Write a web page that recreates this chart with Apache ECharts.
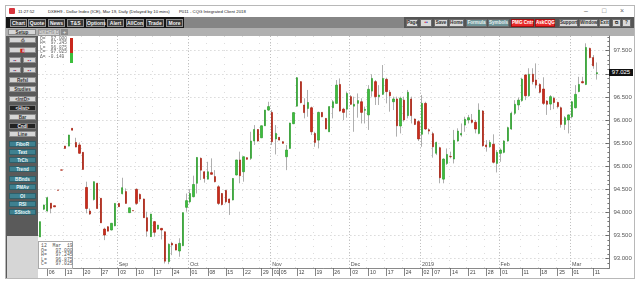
<!DOCTYPE html>
<html><head><meta charset="utf-8">
<script src="https://cdn.jsdelivr.net/npm/echarts@6/dist/echarts.min.js"></script>
<style>
body{margin:0;width:640px;height:286px;background:#fff;position:relative;overflow:hidden;font-family:'Liberation Sans',Arial,sans-serif}
.a{position:absolute;box-sizing:border-box}
.t{position:absolute;white-space:pre;color:#222}
.tb{position:absolute;top:19px;height:8px;font-weight:bold;font-size:5px;line-height:6.5px;text-align:center;box-sizing:border-box;border:1px solid #8f8f8f;background:#3a3a3a;color:#f4f4f4;white-space:nowrap}
.rb{position:absolute;top:19px;height:8px;font-weight:bold;font-size:4.6px;line-height:6.5px;text-align:center;box-sizing:border-box;border:1px solid #6a6a6a;background:#dadada;color:#333;white-space:nowrap}
.rt{background:#6f9599;color:#e6f0f0}
.rr{background:#e82a2a;color:#fff;border-color:#a01010}
.lb{position:absolute;left:9px;width:27px;height:6px;font-size:4.6px;line-height:5.3px;text-align:center;box-sizing:border-box;border:0.6px solid #8a8a8a;background:#d6d6d6;color:#333;white-space:nowrap;font-weight:bold}
.dk{background:#222;color:#eee;border-color:#777}
.tl{background:#3f8190;color:#e8f4f6;border-color:#2d5f6a}
.mono{font-family:'Liberation Mono','DejaVu Sans Mono',monospace;color:#666}
</style></head>
<body>
<!-- window frame -->
<div class="a" style="left:5px;top:5px;width:630px;height:274px;border:1px solid #b8b8b8;background:#fff"></div>
<!-- title bar -->
<div class="a" style="left:9px;top:8px;width:6px;height:6px;background:#d8343c;border-radius:1px"></div>
<div class="t" style="left:18px;top:9px;font-size:4.3px;">11:27:52</div>
<div class="t" style="left:48px;top:9px;font-size:4.3px;">DXEH9 - Dollar Index (ICE), Mar 19, Daily (Delayed by 10 mins)</div>
<div class="t" style="left:179px;top:9px;font-size:4.3px;">P011 - CQG Integrated Client 2018</div>
<div class="t" style="left:584px;top:7px;font-size:7px;color:#666">–</div>
<div class="t" style="left:602px;top:7px;font-size:7px;color:#666">□</div>
<div class="t" style="left:620px;top:7px;font-size:7px;color:#666">×</div>
<!-- toolbar -->
<div class="a" style="left:6px;top:17px;width:628px;height:11px;background:#858585"></div>
<div class="a" style="left:6px;top:17px;width:178px;height:11px;background:#161616"></div>
<div class="a" style="left:404px;top:17px;width:230px;height:11px;background:#555"></div>
<div class="tb" style="left:10px;width:17px">Chart</div>
<div class="tb" style="left:28px;width:18px">Quote</div>
<div class="tb" style="left:48px;width:17px">News</div>
<div class="tb" style="left:67px;width:17px">T&amp;S</div>
<div class="tb" style="left:86px;width:19px">Options</div>
<div class="tb" style="left:107px;width:17px">Alert</div>
<div class="tb" style="left:126px;width:18px">AllCon</div>
<div class="tb" style="left:146px;width:18px">Trade</div>
<div class="tb" style="left:166px;width:17px">More</div>
<div class="rb" style="left:406px;width:12px">Page</div>
<div class="rb" style="left:420px;width:12px"><span style="color:#d22">•</span><span style="color:#24c">•</span></div>
<div class="rb" style="left:434px;width:14px">Save</div>
<div class="rb" style="left:449px;width:15px">Home</div>
<div class="rb rt" style="left:466px;width:21px">Formula</div>
<div class="rb rt" style="left:488px;width:21px">Symbols</div>
<div class="rb rr" style="left:511px;width:23px">PMG Cntr</div>
<div class="rb rr" style="left:535px;width:20px">AskCQG</div>
<div class="rb" style="left:559px;width:19px">Support</div>
<div class="rb" style="left:579px;width:19px">Window</div>
<div class="rb" style="left:599px;width:11px">Exit</div>
<div class="rb" style="left:612px;width:9px">⧉</div>
<div class="rb" style="left:622px;width:9px">?</div>
<!-- tab row -->
<div class="a" style="left:6px;top:28px;width:628px;height:8px;background:#b0b0b0"></div>
<div class="lb" style="top:29px;left:8px;width:28px;height:6px">Setup</div>
<div class="a" style="left:38px;top:29px;width:22px;height:7px;background:#d2d2d2;border:0.6px solid #999;font-size:4.6px;line-height:6px;color:#888;text-align:center">DXEH9,D</div>
<div class="a" style="left:61px;top:29px;width:7px;height:6px;background:#8a8a8a;font-size:6px;line-height:6px;color:#eee;text-align:center">+</div>
<!-- left panel -->
<div class="a" style="left:6px;top:36px;width:32px;height:242px;background:#5a5a5a"></div>
<div class="a" style="left:7px;top:236px;width:31px;height:42px;background:#d6d6d6"></div>
<div class="lb" style="top:37px">⎙</div>
<div class="lb" style="top:47px"><span style="color:#c22">◧</span></div>
<div class="lb" style="top:57px;width:12px"><span style="color:#36c">▪</span><span style="color:#c33">▪</span></div>
<div class="lb" style="top:57px;left:23px;width:13px"><span style="color:#c33">▪</span><span style="color:#36c">▪</span></div>
<div class="lb" style="top:67px;width:12px"><span style="color:#36c">▪</span><span style="color:#c33">▪</span></div>
<div class="lb" style="top:67px;left:23px;width:13px"><span style="color:#c33">▪</span><span style="color:#36c">▪</span></div>
<div class="lb" style="top:77px">Refsl</div>
<div class="lb" style="top:86px">Studies</div>
<div class="lb" style="top:96px">&lt;IntD&gt;</div>
<div class="lb dk" style="top:105px">&lt;Hist&gt;</div>
<div class="lb" style="top:114px">Bar</div>
<div class="lb dk" style="top:123px">Cndl</div>
<div class="lb" style="top:131px">Line</div>
<div class="lb tl" style="top:141px">FiboR</div>
<div class="lb tl" style="top:149px">Text</div>
<div class="lb tl" style="top:157px">TrCh</div>
<div class="lb tl" style="top:166px">Trend</div>
<div class="lb tl" style="top:176px">BBnds</div>
<div class="lb tl" style="top:184px">PMAv</div>
<div class="lb tl" style="top:193px">OI</div>
<div class="lb tl" style="top:201px">RSI</div>
<div class="lb tl" style="top:209px">SStoch</div>

<div id="chart" style="position:absolute;left:0;top:0;width:640px;height:286px;z-index:1"></div>

<!-- overlays -->
<div id="infoTop" class="t mono" style="left:40px;top:37px;font-size:4.5px;line-height:4.4px;z-index:2"></div>
<div class="a" style="left:70px;top:38px;width:3px;height:15px;background:#c8281c;z-index:2"></div>
<div class="a" style="left:70px;top:53px;width:3px;height:10px;background:#3cbf3c;z-index:2"></div>
<div id="infoBox" class="a mono" style="left:38px;top:241px;width:35px;height:28px;background:#fff;border:0.8px solid #aaa;z-index:2;font-size:4.8px;line-height:4.6px;white-space:pre;padding:2px 0 0 2px;color:#555"></div>
<div id="lastBox" class="a" style="left:609px;width:24px;height:7px;background:#111;color:#fff;font-size:6px;line-height:7px;text-align:center;z-index:2"></div>

<script>
// ---- data ----
const dates = [
"2018-08-02","2018-08-03",
"2018-08-06","2018-08-07","2018-08-08","2018-08-09","2018-08-10",
"2018-08-13","2018-08-14","2018-08-15","2018-08-16","2018-08-17",
"2018-08-20","2018-08-21","2018-08-22","2018-08-23","2018-08-24",
"2018-08-27","2018-08-28","2018-08-29","2018-08-30","2018-08-31",
"2018-09-03","2018-09-04","2018-09-05","2018-09-06","2018-09-07",
"2018-09-10","2018-09-11","2018-09-12","2018-09-13","2018-09-14",
"2018-09-17","2018-09-18","2018-09-19","2018-09-20","2018-09-21",
"2018-09-24","2018-09-25","2018-09-26","2018-09-27","2018-09-28",
"2018-10-01","2018-10-02","2018-10-03","2018-10-04","2018-10-05",
"2018-10-08","2018-10-09","2018-10-10","2018-10-11","2018-10-12",
"2018-10-15","2018-10-16","2018-10-17","2018-10-18","2018-10-19",
"2018-10-22","2018-10-23","2018-10-24","2018-10-25","2018-10-26",
"2018-10-29","2018-10-30","2018-10-31","2018-11-01","2018-11-02",
"2018-11-05","2018-11-06","2018-11-07","2018-11-08","2018-11-09",
"2018-11-12","2018-11-13","2018-11-14","2018-11-15","2018-11-16",
"2018-11-19","2018-11-20","2018-11-21","2018-11-22","2018-11-23",
"2018-11-26","2018-11-27","2018-11-28","2018-11-29","2018-11-30",
"2018-12-03","2018-12-04","2018-12-05","2018-12-06","2018-12-07",
"2018-12-10","2018-12-11","2018-12-12","2018-12-13","2018-12-14",
"2018-12-17","2018-12-18","2018-12-19","2018-12-20","2018-12-21",
"2018-12-24","2018-12-26","2018-12-27","2018-12-28",
"2018-12-31","2019-01-02","2019-01-03","2019-01-04",
"2019-01-07","2019-01-08","2019-01-09","2019-01-10","2019-01-11",
"2019-01-14","2019-01-15","2019-01-16","2019-01-17","2019-01-18",
"2019-01-21","2019-01-22","2019-01-23","2019-01-24","2019-01-25",
"2019-01-28","2019-01-29","2019-01-30","2019-01-31","2019-02-01",
"2019-02-04","2019-02-05","2019-02-06","2019-02-07","2019-02-08",
"2019-02-11","2019-02-12","2019-02-13","2019-02-14","2019-02-15",
"2019-02-18","2019-02-19","2019-02-20","2019-02-21","2019-02-22",
"2019-02-25","2019-02-26","2019-02-27","2019-02-28","2019-03-01",
"2019-03-04","2019-03-05","2019-03-06","2019-03-07","2019-03-08",
"2019-03-11","2019-03-12"];
const futureDates = ["2019-03-13","2019-03-14","2019-03-15"];

const open = [
93.470,94.070,
94.030,94.200,94.145,94.485,94.920,
95.435,95.435,95.820,95.515,95.460,
95.300,94.540,94.030,94.280,94.630,
94.305,93.640,93.690,93.620,93.710,
94.195,94.405,94.450,93.995,94.040,
94.500,94.390,94.290,93.885,93.475,
93.800,93.640,93.655,93.580,92.935,
93.330,93.310,93.165,93.280,94.110,
94.230,94.340,94.630,95.170,94.880,
94.720,94.860,94.775,94.555,94.410,
94.475,94.290,94.270,94.810,95.135,
94.880,95.185,95.170,95.545,95.795,
95.615,95.875,96.215,96.165,95.590,
95.625,95.530,95.205,95.385,95.920,
96.300,96.830,96.325,96.250,96.265,
95.710,95.565,96.165,96.035,95.745,
96.265,96.360,96.770,96.235,96.235,
96.505,96.300,96.360,96.395,96.210,
96.110,96.625,96.830,96.505,96.555,
96.880,96.600,96.395,96.455,95.870,
96.430,96.095,96.455,96.020,
95.965,95.690,96.360,95.790,
95.705,95.280,95.400,94.720,95.060,
95.210,95.155,95.545,95.675,95.890,
96.000,96.000,95.950,95.710,96.195,
95.460,95.420,95.475,95.060,95.280,
95.300,95.545,95.805,96.145,96.325,
96.420,96.975,96.525,96.990,96.865,
96.770,96.670,96.410,96.345,96.470,
96.380,96.265,95.905,96.000,96.070,
96.265,96.615,96.830,96.770,97.550,
97.350,97.000];

const close = [
93.800,94.160,
94.320,94.090,94.120,94.480,94.915,
95.385,95.675,95.780,95.415,95.280,
94.930,94.085,93.965,94.665,94.085,
93.775,93.510,93.595,93.765,94.195,
94.125,94.535,94.195,94.100,94.035,
94.195,94.290,93.885,93.595,93.965,
93.570,93.725,93.620,92.945,93.310,
93.295,93.185,93.330,93.995,94.255,
94.410,94.605,95.190,94.915,94.735,
94.880,94.825,94.665,94.195,94.170,
94.230,94.210,94.735,95.135,94.795,
95.205,95.150,95.545,95.795,95.545,
95.875,96.215,96.290,95.530,95.710,
95.565,95.495,95.350,95.935,96.160,
96.915,96.375,96.160,96.380,95.745,
95.515,96.165,96.070,95.805,96.290,
96.395,96.755,96.195,96.165,96.575,
96.340,96.340,96.420,96.165,96.230,
96.665,96.900,96.505,96.540,96.900,
96.615,96.525,96.455,95.875,96.470,
96.000,96.600,96.095,95.905,
95.590,96.360,95.805,95.760,
95.420,95.515,94.750,95.155,95.255,
95.205,95.560,95.760,95.710,96.015,
96.050,95.950,95.805,96.215,95.445,
95.420,95.515,95.085,95.300,95.350,
95.545,95.835,96.145,96.340,96.430,
96.885,96.525,96.990,96.830,96.755,
96.600,96.360,96.340,96.505,96.380,
96.290,95.905,96.050,96.110,96.395,
96.555,96.770,96.805,97.570,97.350,
97.174,97.025];

const low = [
93.470,94.050,
94.015,93.980,94.120,94.480,94.915,
95.380,95.430,95.775,95.410,95.270,
94.925,93.980,93.945,94.255,94.080,
93.770,93.400,93.590,93.610,93.700,
94.120,94.390,94.190,93.990,94.035,
94.160,94.230,93.880,93.475,93.470,
93.475,93.630,93.415,92.895,92.880,
93.075,93.180,93.040,93.270,94.015,
94.195,94.325,94.410,94.700,94.645,
94.715,94.820,94.650,94.160,94.150,
94.195,93.945,94.260,94.800,94.630,
94.665,95.140,95.135,95.460,95.530,
95.610,95.870,96.200,95.460,95.255,
95.560,95.490,94.915,95.380,95.910,
96.290,96.360,96.035,96.070,95.675,
95.420,95.385,96.060,95.800,95.740,
96.035,96.355,96.180,96.000,96.050,
96.325,95.745,96.050,95.925,95.925,
95.785,96.505,96.325,96.325,96.540,
96.360,96.180,96.215,95.640,95.710,
95.965,96.035,95.925,95.890,
95.545,95.420,95.785,95.690,
95.185,95.240,94.630,94.630,95.025,
95.170,95.060,95.530,95.640,95.745,
95.925,95.925,95.710,95.690,95.420,
95.315,95.400,95.060,94.865,95.095,
95.280,95.530,95.785,96.110,96.215,
96.395,96.430,96.505,96.770,96.685,
96.575,96.325,96.110,96.215,96.235,
96.250,95.835,95.785,95.710,96.035,
96.250,96.600,96.795,96.755,97.335,
97.110,96.875];

const high = [
93.800,94.170,
94.340,94.200,94.145,94.485,94.920,
95.440,95.680,95.825,95.615,95.515,
95.305,94.665,94.085,94.670,94.640,
94.310,93.670,93.700,93.770,94.200,
94.200,94.750,94.520,94.110,94.040,
94.520,94.410,94.300,94.015,93.970,
93.815,93.730,93.660,93.590,93.330,
93.365,93.315,93.440,94.000,94.410,
94.505,94.795,95.195,95.190,94.890,
95.095,95.170,94.915,94.590,94.420,
94.490,94.300,94.740,95.140,95.315,
95.210,95.190,95.745,95.890,95.800,
95.880,96.220,96.395,96.215,95.890,
95.630,95.540,95.460,95.940,96.165,
96.930,96.840,96.470,96.650,96.290,
95.745,96.180,96.170,96.040,96.295,
96.430,96.865,96.900,96.265,96.615,
96.540,96.505,96.575,96.470,96.290,
96.755,96.990,96.865,96.755,97.190,
96.915,96.650,96.505,96.505,96.505,
96.505,96.650,96.505,96.035,
96.000,96.540,96.395,95.820,
95.745,95.530,95.420,95.170,95.385,
95.315,95.785,95.820,95.925,96.070,
96.110,96.130,96.000,96.360,96.215,
95.565,95.565,95.690,95.350,95.385,
95.565,95.855,96.180,96.430,96.485,
96.915,96.990,97.120,97.120,97.225,
96.795,96.925,96.430,96.540,96.505,
96.395,96.290,96.085,96.120,96.410,
96.755,96.935,96.935,97.660,97.565,
97.405,97.245];

const tickDates = ["2018-08-06","2018-08-13","2018-08-20","2018-08-27","2018-09-03","2018-09-10",
"2018-09-17","2018-09-24","2018-10-01","2018-10-08","2018-10-15","2018-10-22","2018-10-29",
"2018-11-01","2018-11-05","2018-11-12","2018-11-19","2018-11-26","2018-12-03","2018-12-10",
"2018-12-17","2018-12-24","2019-01-02","2019-01-07","2019-01-14","2019-01-21","2019-01-28",
"2019-02-01","2019-02-11","2019-02-18","2019-02-25","2019-03-01","2019-03-11"];
const monthStarts = ["2018-09-03","2018-10-01","2018-11-01","2018-12-03","2019-01-02","2019-02-01","2019-03-01"];
const monthLabels = ["Sep","Oct","Nov","Dec","2019","Feb","Mar"];
const yTicks = [93.0,93.5,94.0,94.5,95.0,95.5,96.0,96.5,97.0,97.5];
const yLabels = [93.0,93.5,94.0,94.5,95.0,95.5,96.0,96.5,97.5];
const yMin = 92.797, yMax = 97.818;

// ---- derived ----
const n = dates.length;
const lastPrice = close[n-1];
const cats = dates.concat(futureDates);
const tickSet = new Set(tickDates);
const monthSet = new Set(monthStarts);
const minorTicks = [];
for (let v = 92.8; v <= 97.81; v += 0.1) minorTicks.push(+v.toFixed(1));

const wickData = dates.map((d,i)=>[open[i],close[i],low[i],high[i]]);
const bodyData = dates.map((d,i)=>[open[i],close[i],Math.min(open[i],close[i]),Math.max(open[i],close[i])]);

// info texts
const f3 = v => v.toFixed(3);
document.getElementById('infoTop').textContent =
 'O=  '+f3(open[n-1])+'\nH=  '+f3(high[n-1])+'\nL=  '+f3(low[n-1])+'\nC=  '+f3(close[n-1])+'\nΔ= '+(close[n-1]-close[n-2]).toFixed(3);
const mNames=["Jan","Feb","Mar","Apr","May","Jun","Jul","Aug","Sep","Oct","Nov","Dec"];
const ld = dates[n-1].split('-');
document.getElementById('infoBox').textContent =
 ld[2]+'  '+mNames[+ld[1]-1]+'  '+ld[0].slice(2)+'\nO=   '+f3(open[n-1])+'\nH=   '+f3(high[n-1])+'\nL=   '+f3(low[n-1])+'\nC=   '+f3(close[n-1]);

const chart = echarts.init(document.getElementById('chart'), null, {renderer:'canvas'});
chart.setOption({
  animation:false,
  backgroundColor:'transparent',
  grid:{left:38.4,right:30.6,top:36,bottom:18,containLabel:false,outerBoundsMode:'none'},
  xAxis:[{
    type:'category',data:cats,boundaryGap:true,position:'bottom',
    axisLine:{show:true,lineStyle:{color:'#8a8a8a',width:1}},
    axisTick:{show:true,interval:(i,v)=>tickSet.has(v),alignWithLabel:true,length:8,lineStyle:{color:'#666',width:0.8}},
    axisLabel:{interval:(i,v)=>tickSet.has(v),formatter:v=>v.slice(8),align:'left',margin:2,fontSize:5.2,color:'#444',padding:[0,0,0,1.5],fontFamily:'Liberation Sans'},
    splitLine:{show:true,interval:(i,v)=>tickSet.has(v),lineStyle:{color:'#d4d4d4',width:0.8,type:[1,6]}}
  },{
    type:'category',data:cats,boundaryGap:true,position:'bottom',
    axisLine:{show:false},axisTick:{show:false},
    axisLabel:{inside:true,interval:(i,v)=>monthSet.has(v),formatter:v=>monthLabels[monthStarts.indexOf(v)]||'',align:'left',margin:1,fontSize:5.4,color:'#555',fontFamily:'Liberation Sans'},
    splitLine:{show:true,interval:(i,v)=>monthSet.has(v),lineStyle:{color:'#b4b4b4',width:0.8,type:[1,2]}}
  }],
  yAxis:[{
    type:'value',position:'right',min:yMin,max:yMax,scale:true,
    axisLine:{show:true,lineStyle:{color:'#7a7a7a',width:1}},
    axisTick:{show:true,inside:true,length:4,customValues:yTicks,lineStyle:{color:'#666'}},
    axisLabel:{customValues:yLabels,formatter:v=>v.toFixed(3),fontSize:6,color:'#555',margin:4,fontFamily:'Liberation Sans'},
    splitLine:{show:true,lineStyle:{color:'#b8b8b8',width:0.8,type:[1,3]}}
  },{
    type:'value',position:'right',min:yMin,max:yMax,scale:true,
    axisLine:{show:false},
    axisTick:{show:true,inside:true,length:2,customValues:minorTicks,lineStyle:{color:'#777'}},
    axisLabel:{show:false},splitLine:{show:false}
  }],
  series:[{
    name:'wick',type:'candlestick',xAxisIndex:0,yAxisIndex:0,data:wickData,barWidth:1,
    itemStyle:{color:'#9a9a9a',color0:'#9a9a9a',borderColor:'#9a9a9a',borderColor0:'#9a9a9a',borderColorDoji:'#9a9a9a',borderWidth:0.8},
    silent:true
  },{
    name:'DXEH9',type:'candlestick',xAxisIndex:0,yAxisIndex:0,data:bodyData,barWidth:1.8,
    itemStyle:{color:'#3dbf3d',color0:'#cc2a1c',borderColor:'#2e9e2e',borderColor0:'#a8200f',borderColorDoji:'#8a3a2a',borderWidth:0.7},
    silent:true
  }]
});
// last-price marker on the right axis, positioned through the value scale
const py = chart.convertToPixel({yAxisIndex:0}, lastPrice);
const lb = document.getElementById('lastBox');
lb.textContent = lastPrice.toFixed(3);
lb.style.top = (py - 3.5) + 'px';
</script>
</body></html>
